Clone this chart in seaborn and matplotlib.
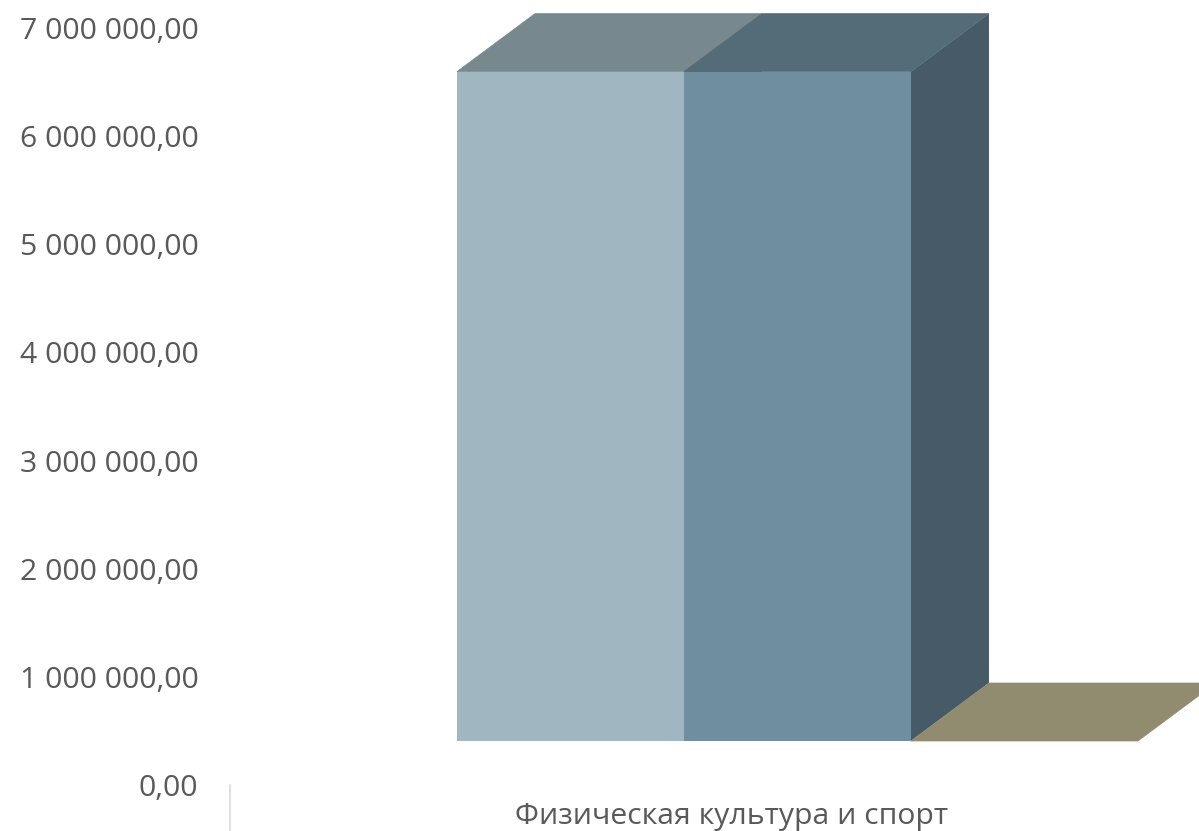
import numpy as np
import pandas as pd
import matplotlib
matplotlib.use("Agg")
import matplotlib.pyplot as plt
import matplotlib.transforms as mtransforms
from matplotlib.patches import Polygon
from matplotlib.lines import Line2D
import seaborn as sns

sns.set_theme(style="white")
plt.rcParams["font.family"] = ["Open Sans", "DejaVu Sans"]

# data
categories = ["Физическая культура и спорт"]
series = ["Ряд 1", "Ряд 2", "Ряд 3"]
values = [6190000, 6190000, 0]
y_ticks = np.arange(0, 8) * 1_000_000

front_colors = ["#A0B6C0", "#6F8F9F", "#A9A386"]
top_colors = ["#78888F", "#546C78", "#918B6F"]
side_colors = ["#5E6E75", "#465B67", "#7A7458"]
text_color = "#595959"

# fake 3d look: depth of the bars in pixels, and the drop of the axis labels
depth_px = (78, 58)
axis_drop = 0.407e6

d = pd.DataFrame({"Категория": categories * len(series),
                  "Ряд": series,
                  "Значение": values})

fig = plt.figure(figsize=(11.99, 8.31), dpi=100)
ax = fig.add_axes([229 / 1199, 35 / 831, 970 / 1199, 796 / 831])

sns.barplot(data=d, x="Категория", y="Значение", hue="Ряд",
            palette=front_colors, width=0.8, saturation=1,
            legend=False, ax=ax, zorder=2, linewidth=0)

ax.set_xlim(-0.6678, 0.4717)
ax.set_ylim(-0.5086e6, 6.8522e6)
fig.canvas.draw()

# tops and sides of the boxes, drawn in display space
dx, dy = depth_px
for bar, top_c, side_c in zip(ax.patches, top_colors, side_colors):
    x0, y0 = bar.get_x(), bar.get_y()
    x1, y1 = x0 + bar.get_width(), y0 + bar.get_height()
    (px0, py0), (px1, py1) = ax.transData.transform([(x0, y0), (x1, y1)])
    top = Polygon([(px0, py1), (px1, py1), (px1 + dx, py1 + dy), (px0 + dx, py1 + dy)],
                  closed=True, facecolor=top_c, edgecolor=top_c, linewidth=0.5,
                  transform=None, zorder=3)
    side = Polygon([(px1, py0), (px1, py1), (px1 + dx, py1 + dy), (px1 + dx, py0 + dy)],
                   closed=True, facecolor=side_c, edgecolor="none",
                   transform=None, zorder=1)
    ax.add_patch(side)
    ax.add_patch(top)

ax.set_yticks(y_ticks - axis_drop)
ax.set_yticklabels([f"{v:,.2f}".replace(",", " ").replace(".", ",") for v in y_ticks])
ax.tick_params(axis="y", length=0, pad=22, labelsize=21.7, labelcolor=text_color)
ax.tick_params(axis="x", length=0, pad=4, labelsize=21.7, labelcolor=text_color)
shift = mtransforms.ScaledTranslation(-66 / 100, 0, fig.dpi_scale_trans)
for lbl in ax.get_xticklabels():
    lbl.set_transform(lbl.get_transform() + shift)

ax.set_xlabel("")
ax.set_ylabel("")
for s in ax.spines.values():
    s.set_visible(False)
ax.grid(False)

fig.add_artist(Line2D([229.5 / 1199, 229.5 / 1199], [0, 46 / 831],
                      color="#D9D9D9", linewidth=1.2))

fig.savefig("out.png", dpi=100, facecolor="white")
